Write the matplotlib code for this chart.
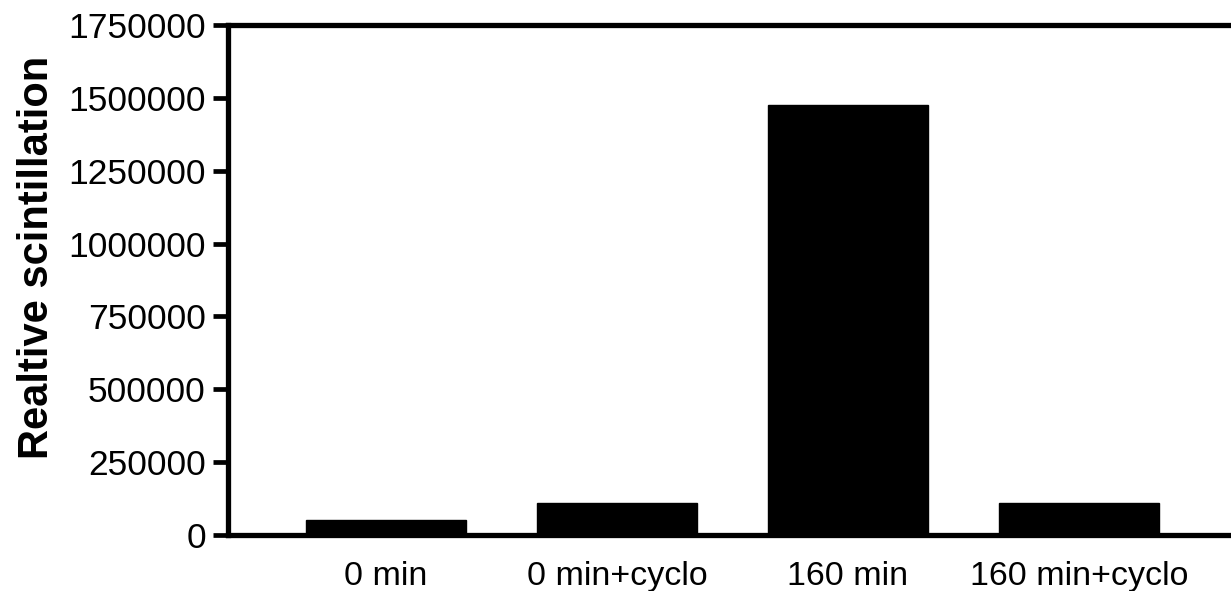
import matplotlib
matplotlib.use("Agg")
import matplotlib.pyplot as plt
import numpy as np

plt.rcParams['font.family'] = ['Liberation Sans', 'DejaVu Sans']

# data
groups = ['0 min', '0 min+cyclo', '160 min', '160 min+cyclo']
scint = [50000, 110000, 1475000, 110000]
yticks = [0, 250000, 500000, 750000, 1000000, 1250000, 1500000, 1750000]

fig = plt.figure(figsize=(12.31, 5.91), dpi=100)
ax = fig.add_axes([0.1852, 0.0948, 1.0049 - 0.1852, 0.9577 - 0.0948])

x = np.arange(len(groups))
ax.bar(x, scint, width=0.69, color='black', edgecolor='black')

ax.set_xlim(-0.685, 3.685)
ax.set_ylim(0, 1750000)
ax.set_yticks(yticks)
ax.set_yticklabels([str(v) for v in yticks])
ax.set_xticks(x)
ax.set_xticklabels(groups)

for s in ax.spines.values():
    s.set_linewidth(3.8)
ax.tick_params(axis='y', length=11, width=3.4, pad=5, labelsize=25.5)
ax.tick_params(axis='x', length=0, pad=19, labelsize=24.5)

ax.set_ylabel('Realtive scintillation', fontsize=30, fontweight='bold')
ax.yaxis.set_label_coords(-0.169, 0.545)

fig.savefig('out.png', dpi=100)
